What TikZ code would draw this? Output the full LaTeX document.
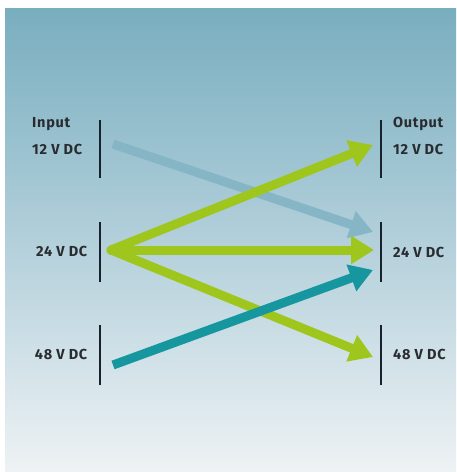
\documentclass[tikz,border=0pt]{standalone}
\usepackage{fontspec}
\newfontfamily\labfont{Fira Sans}[LetterSpace=5]
\usetikzlibrary{arrows.meta}
\definecolor{bgA}{RGB}{121,174,191}
\definecolor{bgB}{RGB}{160,197,210}
\definecolor{bgC}{RGB}{202,221,229}
\definecolor{bgD}{RGB}{238,242,244}
\definecolor{greenA}{RGB}{158,198,28}
\definecolor{blueA}{RGB}{134,182,198}
\definecolor{tealA}{RGB}{22,150,158}
\definecolor{barC}{RGB}{24,34,44}
\definecolor{txtC}{RGB}{40,44,48}
\tikzset{
  lab/.style={font=\labfont\bfseries\fontsize{14.5}{16}\selectfont, text=txtC, inner sep=0pt},
  bar/.style={draw=barC, line width=1.8pt},
  arr/.style={line width=9pt, -{Triangle[length=23pt,width=27pt]}},
}
\begin{document}
\begin{tikzpicture}[x=1pt,y=-1pt]
\useasboundingbox (0,0) rectangle (456,472);
\fill[white] (0,0) rectangle (456,472);
\shade[top color=bgA, bottom color=bgB] (5,8) rectangle (456,170);
\shade[top color=bgB, bottom color=bgC] (5,169.5) rectangle (456,330);
\shade[top color=bgC, bottom color=bgD] (5,329.5) rectangle (456,472);
% bars
\coordinate (l12t) at (100,120); \coordinate (l12b) at (100,178);
\coordinate (l24t) at (100,222); \coordinate (l24b) at (100,282);
\coordinate (l48t) at (100,325); \coordinate (l48b) at (100,385);
\coordinate (r12t) at (381,120); \coordinate (r12b) at (381,178);
\coordinate (r24t) at (381,222); \coordinate (r24b) at (381,282);
\coordinate (r48t) at (381,325); \coordinate (r48b) at (381,385);
\draw[bar] (l12t) -- (l12b);
\draw[bar] (l24t) -- (l24b);
\draw[bar] (l48t) -- (l48b);
\draw[bar] (r12t) -- (r12b);
\draw[bar] (r24t) -- (r24b);
\draw[bar] (r48t) -- (r48b);
% labels
\node[lab, anchor=west] (inlab) at (32,124) {Input};
\node[lab, anchor=west] (in12) at (32,149.5) {12 V DC};
\node[lab, anchor=east] (in24) at (87.5,251.5) {24 V DC};
\node[lab, anchor=east] (in48) at (87.5,354.5) {48 V DC};
\node[lab, anchor=west] (outlab) at (393,124) {Output};
\node[lab, anchor=west] (out12) at (393,149.5) {12 V DC};
\node[lab, anchor=west] (out24) at (393,252) {24 V DC};
\node[lab, anchor=west] (out48) at (393,354.5) {48 V DC};
% arrow endpoints
\coordinate (s12) at (113,144);
\coordinate (s24) at (111,250);
\coordinate (s48) at (113,365);
\coordinate (e12) at (373,145);
\coordinate (e24a) at (373,232);
\coordinate (e24) at (374,250);
\coordinate (e24b) at (373,270);
\coordinate (e48) at (373,357);
% arrows
\draw[arr, draw=blueA, fill=blueA] (s12) -- (e24a);
\draw[arr, draw=greenA, fill=greenA, line cap=round] (s24) -- (e12);
\draw[arr, draw=greenA, fill=greenA, line cap=round] (s24) -- (e48);
\draw[arr, draw=greenA, fill=greenA, line cap=round] (s24) -- (e24);
\draw[arr, draw=tealA, fill=tealA] (s48) -- (e24b);
\end{tikzpicture}
\end{document}
